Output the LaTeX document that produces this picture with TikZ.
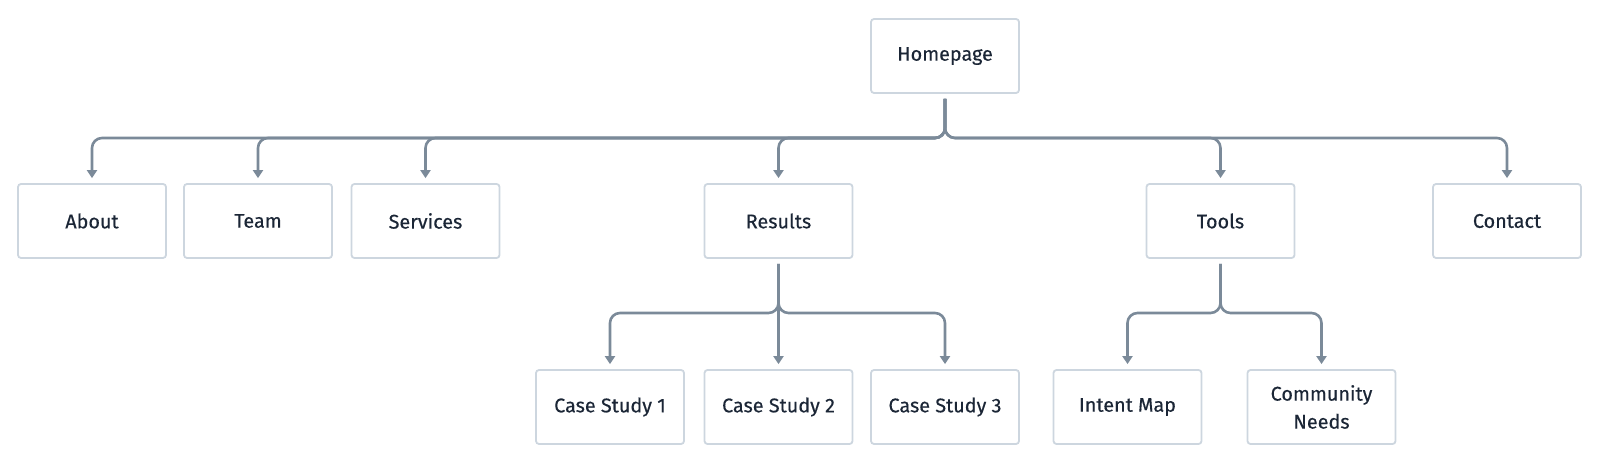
\documentclass[tikz,border=0pt]{standalone}
\usepackage{fontspec}
\setmainfont{Fira Sans}[UprightFeatures={FakeBold=0.35}]
\usetikzlibrary{arrows.meta}
\definecolor{edgecol}{HTML}{7B8A99}
\definecolor{boxcol}{HTML}{CDD6DF}
\definecolor{txtcol}{HTML}{1B2636}
\begin{document}
\begin{tikzpicture}[x=1pt,y=-1pt,
  pagebox/.style={draw=boxcol,line width=1.8pt,rounded corners=3pt,fill=white,
    minimum width=148pt,minimum height=74pt,inner sep=0pt,align=center,
    text=txtcol,font=\fontsize{19.8}{28}\selectfont},
  edge/.style={draw=edgecol,line width=2.6pt,rounded corners=10pt,
    -{Triangle[width=10pt,length=8pt]},shorten <=5pt,shorten >=5pt}]
\useasboundingbox (0,0) rectangle (1600,462);
\coordinate (t1) at (0,138);
\coordinate (t2) at (0,313);
\node[pagebox] (home) at (945,56) {Homepage};
\node[pagebox] (about) at (92,221) {About};
\node[pagebox] (team) at (258,221) {Team};
\node[pagebox] (services) at (425.5,221) {Services};
\node[pagebox] (results) at (778.5,221) {Results};
\node[pagebox] (tools) at (1220.5,221) {Tools};
\node[pagebox] (contact) at (1507,221) {Contact};
\node[pagebox] (cs1) at (610,407) {Case Study 1};
\node[pagebox] (cs2) at (778.5,407) {Case Study 2};
\node[pagebox] (cs3) at (945,407) {Case Study 3};
\node[pagebox] (intent) at (1127.5,407) {Intent Map};
\node[pagebox] (comm) at (1321.5,407) {Community\\Needs};
\foreach \t in {about,team,services,results,tools,contact}
  \draw[edge] (home.south) -- (home.south |- t1) -| (\t.north);
\foreach \t in {cs1,cs3}
  \draw[edge] (results.south) -- (results.south |- t2) -| (\t.north);
\draw[edge] (results.south) -- (cs2.north);
\foreach \t in {intent,comm}
  \draw[edge] (tools.south) -- (tools.south |- t2) -| (\t.north);
\end{tikzpicture}
\end{document}
